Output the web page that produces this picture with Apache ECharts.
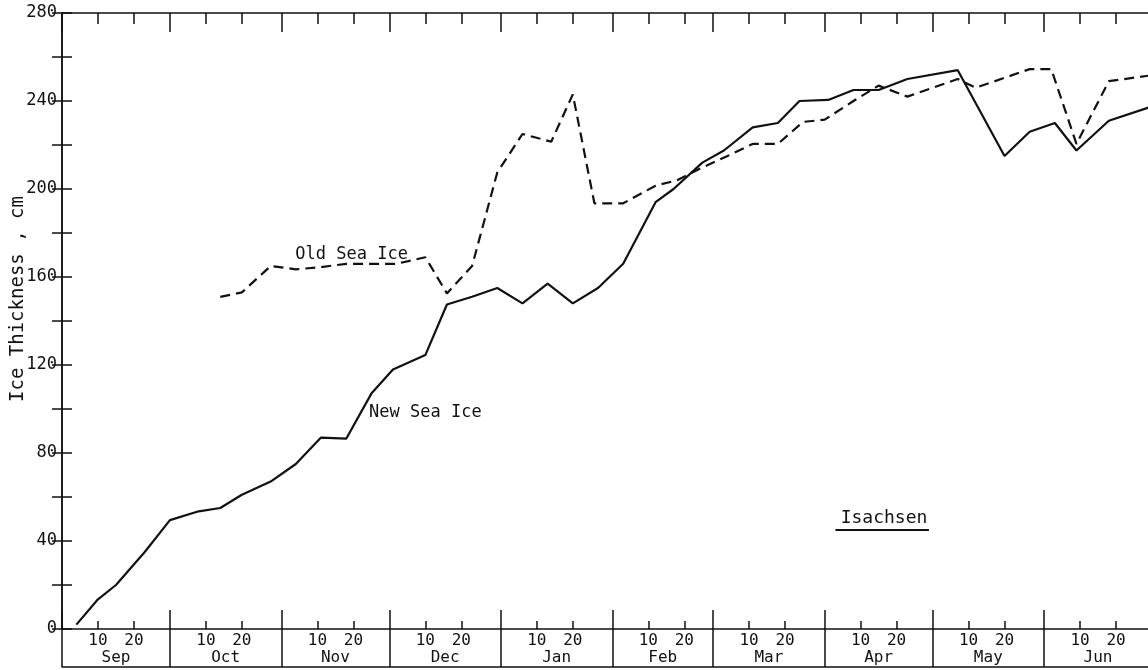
<!DOCTYPE html>
<html>
<head>
<meta charset="utf-8">
<script src="https://cdn.jsdelivr.net/npm/echarts@6/dist/echarts.min.js"></script>
<style>
  html, body { margin: 0; padding: 0; background: #fff; }
  #chart { width: 1148px; height: 670px; }
</style>
</head>
<body>
<div id="chart"></div>
<script>
// months along the bottom (season starts 1 Sep), x = days after 31 Aug
var monthNames = ['Sep', 'Oct', 'Nov', 'Dec', 'Jan', 'Feb', 'Mar', 'Apr', 'May', 'Jun'];
var monthDays = [30, 31, 30, 31, 31, 28, 31, 30, 31, 30];
var dayTicks = [10, 20];

// new sea ice (solid)
var newIceDay = [4, 10, 15, 23, 30, 38, 44, 50, 58, 65, 72, 79, 86, 92, 101, 107, 114, 121, 128, 135,
  142, 149, 156, 165, 170, 178, 184, 192, 199, 205, 213, 220, 227, 235, 249, 262, 269, 276, 282, 291, 302];
var newIceCm = [2, 13.5, 20, 35, 49.5, 53.5, 55, 61, 67, 75, 87, 86.5, 107, 118, 124.5, 147.5, 151, 155, 148, 157,
  148, 155, 166, 194, 200, 212, 217.5, 228, 230, 240, 240.5, 245, 245, 250, 254, 215, 226, 230, 217.5, 231, 237];

// old sea ice (dashed)
var oldIceDay = [44, 50, 58, 65, 72, 79, 86, 93, 101, 107, 114, 121, 128, 136, 142, 148, 156, 165, 171, 177,
  185, 192, 199, 206, 212, 220, 227, 235, 249, 254, 269, 275, 282, 291, 302];
var oldIceCm = [151, 153, 165, 163.5, 164.5, 166, 166, 166, 169, 152.5, 165, 207.5, 225, 221.5, 243, 193.5, 193.5, 201.5, 204, 209,
  215, 220.5, 220.5, 230.5, 231.5, 240, 247, 242, 250, 246, 254.5, 254.5, 220.5, 249, 251.5];

// tick positions worked out from the month lengths
var monthEdges = [0];
monthDays.forEach(function (n, i) { monthEdges.push(monthEdges[i] + n); });
var totalDays = monthEdges[monthEdges.length - 1];
var midMonth = monthDays.map(function (n, i) { return monthEdges[i] + n / 2; });
var dayPos = [];
monthDays.forEach(function (n, i) {
  dayTicks.forEach(function (d) { dayPos.push(monthEdges[i] + d); });
});

var font = 'DejaVu Sans Mono';
var ink = '#111';

function xAx(extra) {
  var base = {
    type: 'value', min: 0, max: totalDays, gridIndex: 0,
    axisLine: { show: false, lineStyle: { color: ink, width: 1.5 } },
    axisTick: { show: false },
    axisLabel: { show: false },
    splitLine: { show: false }
  };
  return Object.assign(base, extra);
}

var myChart = echarts.init(document.getElementById('chart'), null, { renderer: 'canvas' });

var option = {
  animation: false,
  backgroundColor: '#fff',
  textStyle: { fontFamily: font, color: ink },
  grid: { left: 62, right: -4, top: 13, bottom: 41, outerBoundsMode: 'none' },
  xAxis: [
    // axis line + 10/20 small ticks and labels
    xAx({
      position: 'bottom',
      axisLine: { show: true, onZero: false, lineStyle: { color: ink, width: 1.5 } },
      axisTick: { show: true, inside: true, length: 8, customValues: dayPos, lineStyle: { color: ink, width: 1.5 } },
      axisLabel: {
        show: true, customValues: dayPos, margin: 4, fontSize: 16, color: ink, fontFamily: font,
        formatter: function (v) {
          for (var i = 0; i < monthEdges.length; i++) {
            var d = Math.round(v - monthEdges[i]);
            if (d === 10 || d === 20) return String(d);
          }
          return '';
        }
      }
    }),
    // month boundaries above the axis
    xAx({
      position: 'bottom',
      axisTick: { show: true, inside: true, length: 19, customValues: monthEdges, lineStyle: { color: ink, width: 1.5 } }
    }),
    // month boundaries below the axis + month names
    xAx({
      position: 'bottom',
      axisTick: { show: true, inside: false, length: 38, customValues: monthEdges, lineStyle: { color: ink, width: 1.5 } },
      axisLabel: {
        show: true, customValues: midMonth, margin: 21, fontSize: 16, color: ink, fontFamily: font,
        formatter: function (v) {
          var i = midMonth.indexOf(v);
          return i >= 0 ? monthNames[i] : '';
        }
      }
    }),
    // bottom border of the label box
    xAx({
      position: 'bottom', offset: 38,
      axisLine: { show: true, onZero: false, lineStyle: { color: ink, width: 1.5 } }
    }),
    // top frame: long ticks at month edges
    xAx({
      position: 'top',
      axisLine: { show: true, onZero: false, lineStyle: { color: ink, width: 1.5 } },
      axisTick: { show: true, inside: true, length: 19, customValues: monthEdges, lineStyle: { color: ink, width: 1.5 } }
    }),
    // top frame: short ticks at 10/20
    xAx({
      position: 'top',
      axisTick: { show: true, inside: true, length: 11, customValues: dayPos, lineStyle: { color: ink, width: 1.5 } }
    })
  ],
  yAxis: [
    {
      type: 'value', min: 0, max: 280, interval: 20, position: 'left',
      name: 'Ice Thickness , cm', nameLocation: 'middle', nameGap: 34, nameMoveOverlap: false,
      nameTextStyle: { fontFamily: font, fontSize: 19, color: ink, padding: [0, 0, 0, 44] },
      axisLine: { show: true, lineStyle: { color: ink, width: 1.5 } },
      axisTick: { show: true, inside: true, length: 10, lineStyle: { color: ink, width: 1.5 } },
      axisLabel: {
        margin: 5, fontSize: 17, color: ink, fontFamily: font,
        formatter: function (v) { return v % 40 === 0 ? String(v) : ''; }
      },
      splitLine: { show: false }
    },
    {
      type: 'value', min: 0, max: 280, interval: 20, position: 'right',
      axisLine: { show: true, lineStyle: { color: ink, width: 1.5 } },
      axisTick: { show: true, inside: true, length: 10, lineStyle: { color: ink, width: 1.5 } },
      axisLabel: { show: false },
      splitLine: { show: false }
    }
  ],
  series: [
    {
      name: 'New Sea Ice',
      type: 'line',
      xAxisIndex: 0, yAxisIndex: 0,
      data: newIceDay.map(function (d, i) { return [d, newIceCm[i]]; }),
      showSymbol: false, symbol: 'none',
      lineStyle: { color: ink, width: 2.2, type: 'solid' },
      silent: true,
      markPoint: {
        symbol: 'circle', symbolSize: 0, silent: true,
        itemStyle: { color: 'rgba(0,0,0,0)' },
        label: { show: true, position: 'inside', color: ink, fontFamily: font, fontSize: 17, formatter: '{b}' },
        data: [
          { name: 'New Sea Ice', coord: [101, 98.5] },
          { name: 'Old Sea Ice', coord: [80.5, 170] },
          { name: 'Isachsen', coord: [228.5, 50.5], label: { fontSize: 18 } }
        ]
      },
      markLine: {
        symbol: ['none', 'none'], silent: true,
        label: { show: false },
        lineStyle: { color: ink, width: 1.8, type: 'solid' },
        data: [[{ coord: [215, 45] }, { coord: [241, 45] }]]
      }
    },
    {
      name: 'Old Sea Ice',
      type: 'line',
      xAxisIndex: 0, yAxisIndex: 0,
      data: oldIceDay.map(function (d, i) { return [d, oldIceCm[i]]; }),
      showSymbol: false, symbol: 'none',
      lineStyle: { color: ink, width: 2.2, type: [10, 6] },
      silent: true
    }
  ]
};

myChart.setOption(option);
</script>
</body>
</html>
